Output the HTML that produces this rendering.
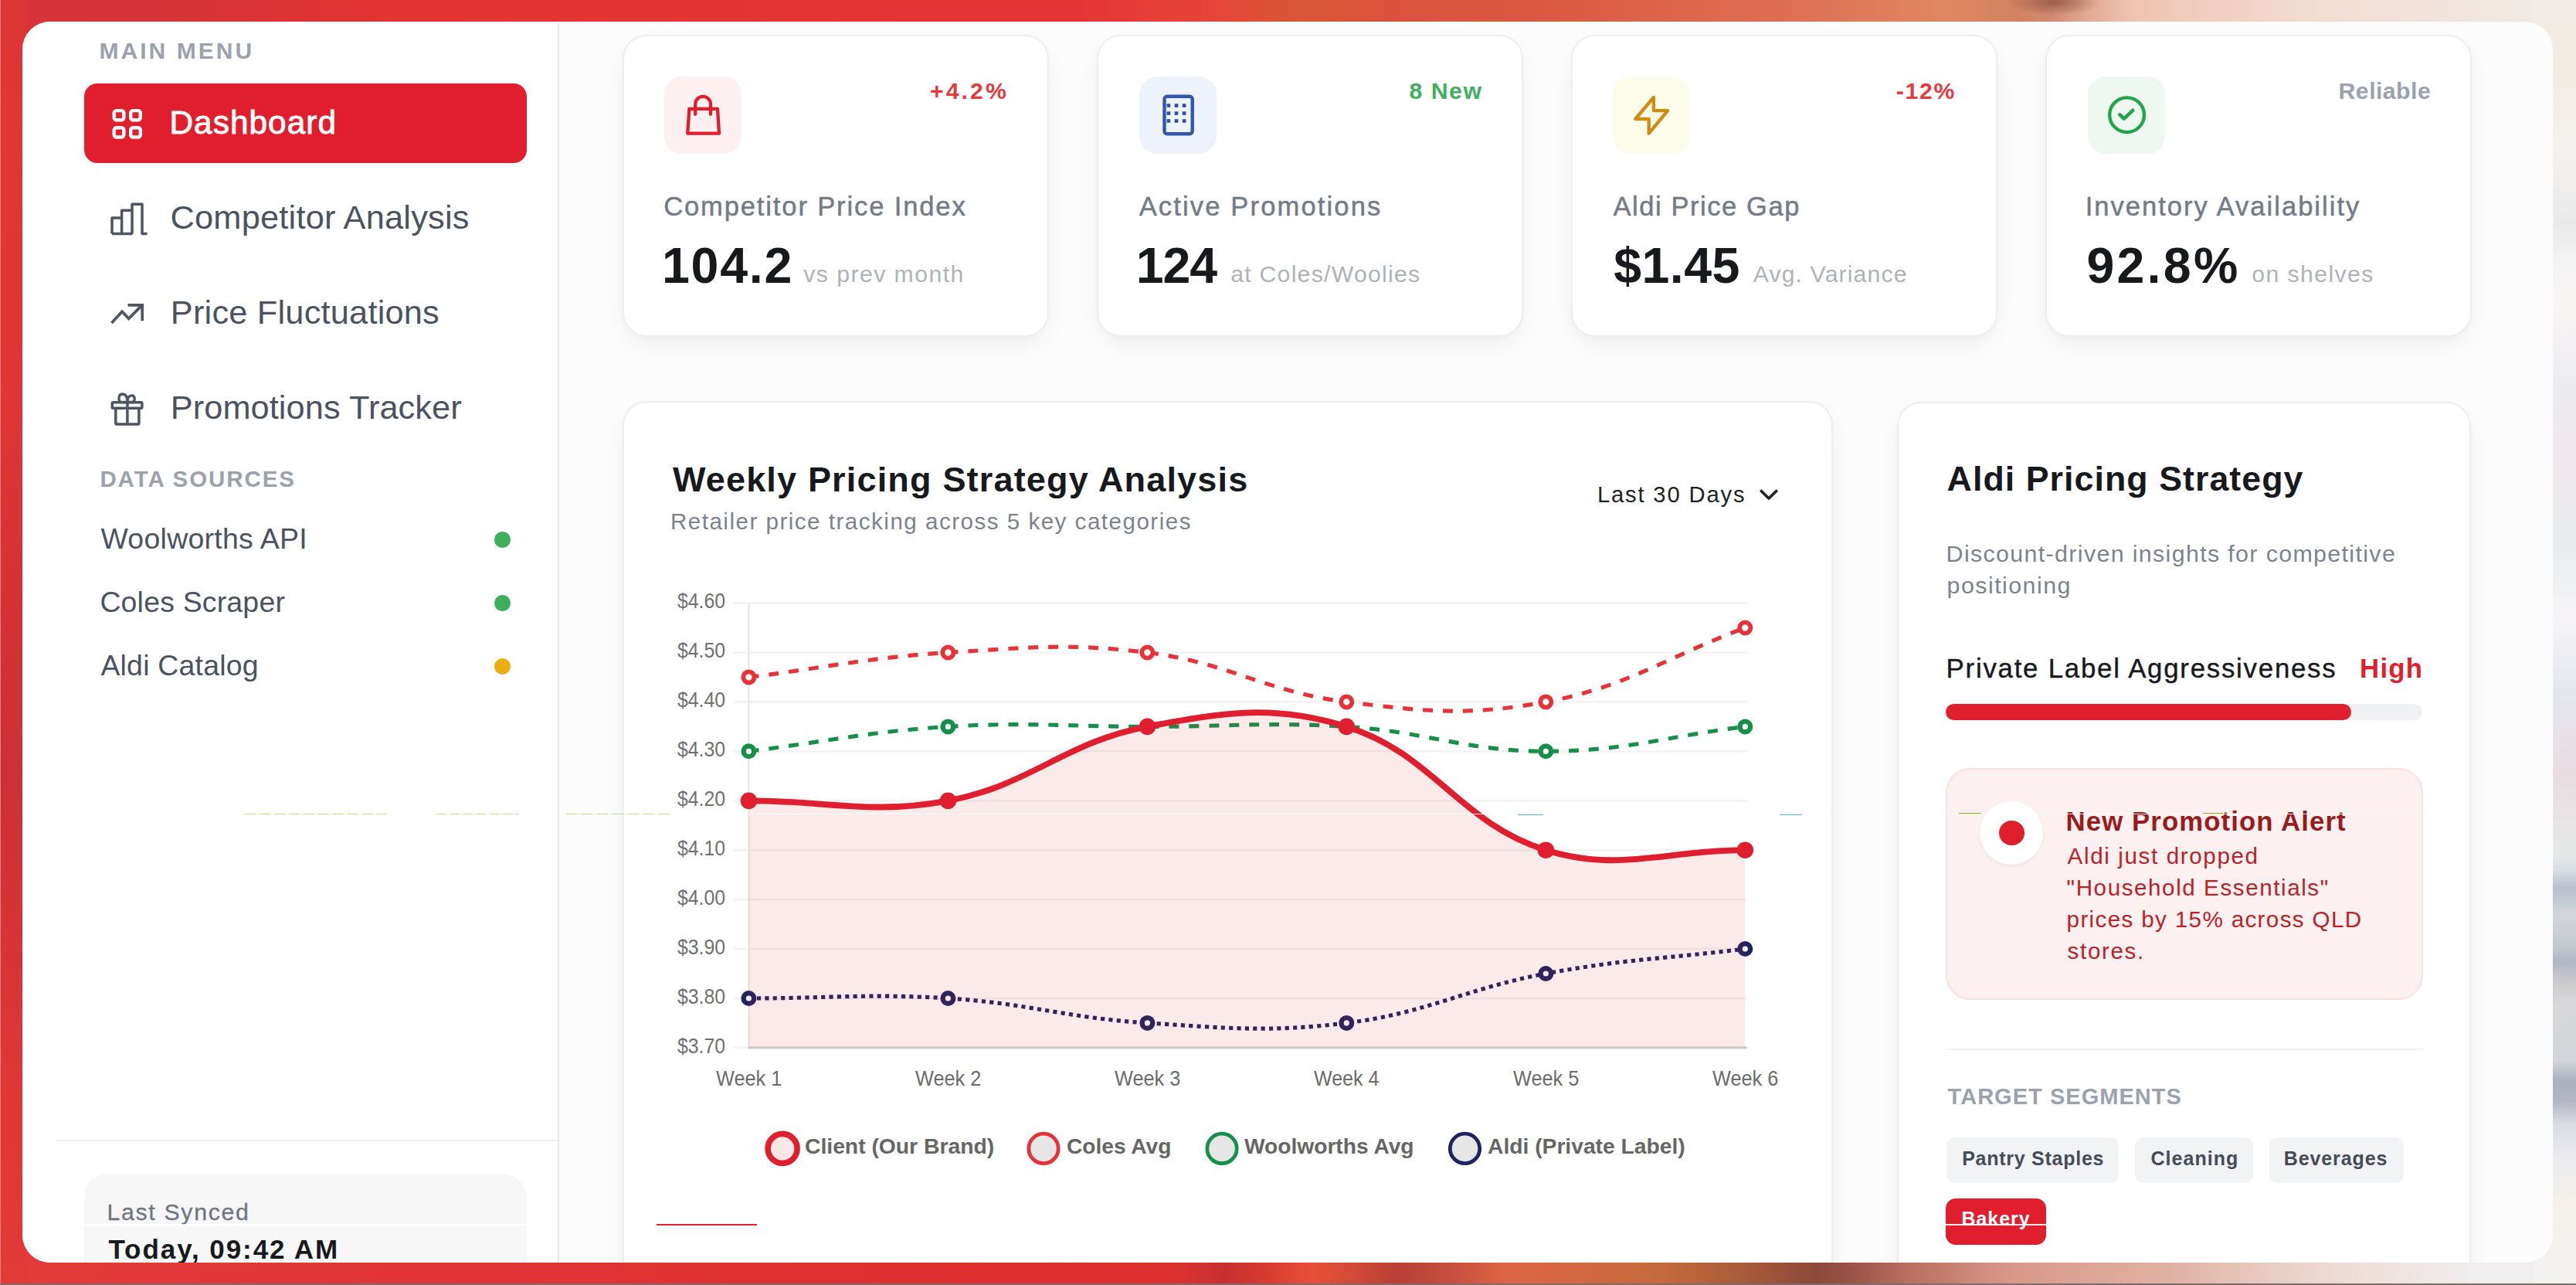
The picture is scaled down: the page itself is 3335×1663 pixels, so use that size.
<!DOCTYPE html>
<html><head><meta charset="utf-8"><title>Dashboard</title>
<style>
html,body{margin:0;padding:0}
html{overflow:hidden;background:#e03434}
body{width:3335px;height:1663px;overflow:hidden;position:relative;background:#e03434;font-family:"Liberation Sans",sans-serif}
.a{position:absolute}
.t{position:absolute;white-space:nowrap;font-family:"Liberation Sans",sans-serif}
.card{position:absolute;background:#fff;border:2.6px solid #eeeeef;border-radius:31px;box-sizing:border-box;box-shadow:0 12px 36px -6px rgba(0,0,0,0.07),0 2px 6px rgba(0,0,0,0.02)}
.ib{position:absolute;width:100px;height:100px;border-radius:23px}
.chip{position:absolute;height:59px;border-radius:11px;background:#f1f3f5}
</style></head>
<body>
<!-- backdrop -->
<div id="bgtop" class="a" style="left: 0px; top: 0px; width: 3335px; height: 840px; background: linear-gradient(to right, rgb(216, 52, 58) 0px, rgb(212, 52, 55) 200px, rgb(227, 51, 51) 500px, rgb(228, 54, 54) 1400px, rgb(230, 67, 59) 1560px, rgb(218, 86, 53) 1680px, rgb(220, 81, 60) 1800px, rgb(217, 90, 64) 2000px, rgb(222, 109, 83) 2300px, rgb(224, 135, 98) 2520px, rgb(211, 130, 98) 2610px, rgb(207, 138, 112) 2655px, rgb(226, 168, 146) 2700px, rgb(240, 195, 178) 2760px, rgb(242, 221, 210) 3000px, rgb(240, 236, 232) 3335px);"></div>
<div id="bgbot" class="a" style="left: 0px; top: 840px; width: 3335px; height: 823px; background: linear-gradient(to right, rgb(227, 58, 58) 0px, rgb(224, 52, 54) 600px, rgb(224, 48, 48) 1400px, rgb(221, 50, 49) 1520px, rgb(200, 48, 48) 1585px, rgb(216, 58, 48) 1640px, rgb(232, 80, 58) 1700px, rgb(208, 72, 56) 1760px, rgb(184, 64, 53) 1810px, rgb(200, 80, 64) 1880px, rgb(221, 101, 69) 1950px, rgb(197, 106, 60) 2150px, rgb(168, 90, 58) 2260px, rgb(140, 74, 58) 2350px, rgb(154, 85, 72) 2400px, rgb(181, 108, 92) 2460px, rgb(216, 152, 136) 2600px, rgb(224, 176, 160) 2800px, rgb(236, 216, 208) 3000px, rgb(240, 238, 238) 3200px, rgb(240, 238, 238) 3335px);"></div>
<div class="a" style="left:2600px;top:-14px;width:120px;height:34px;border-radius:50%;background:radial-gradient(closest-side,rgba(140,80,60,0.75),rgba(140,80,60,0))"></div>
<div id="bgleft" class="a" style="left: 0px; top: 0px; width: 34px; height: 1663px; background: linear-gradient(rgb(220, 53, 54) 0px, rgb(226, 54, 50) 150px, rgb(224, 53, 52) 500px, rgb(214, 50, 54) 750px, rgb(204, 48, 54) 1000px, rgb(216, 52, 54) 1250px, rgb(226, 56, 53) 1450px, rgb(226, 58, 56) 1663px);"></div>
<div id="bgright" class="a" style="left: 3280px; top: 0px; width: 55px; height: 1663px; background: linear-gradient(rgb(242, 236, 230) 0px, rgb(243, 236, 228) 100px, rgb(244, 242, 240) 200px, rgb(233, 233, 234) 290px, rgb(244, 244, 244) 340px, rgb(248, 244, 244) 400px, rgb(236, 236, 240) 500px, rgb(240, 232, 236) 600px, rgb(232, 236, 236) 700px, rgb(246, 244, 246) 800px, rgb(228, 230, 238) 900px, rgb(232, 220, 224) 1000px, rgb(230, 232, 232) 1100px, rgb(220, 223, 226) 1125px, rgb(184, 192, 204) 1150px, rgb(210, 214, 218) 1185px, rgb(196, 200, 208) 1225px, rgb(176, 184, 196) 1245px, rgb(200, 200, 204) 1268px, rgb(216, 216, 218) 1300px, rgb(210, 212, 216) 1372px, rgb(170, 176, 188) 1400px, rgb(178, 182, 194) 1425px, rgb(218, 220, 226) 1455px, rgb(236, 236, 240) 1500px, rgb(245, 241, 234) 1560px, rgb(243, 242, 241) 1640px);"></div>
<div class="a" style="left:0;top:1661px;width:3335px;height:2px;background:#7e6c6a"></div>
<div class="a" style="left:0;top:0;width:1px;height:1661px;background:#ee7f7f"></div>
<!-- frame -->
<div id="frame" class="a" style="left:28.5px;top:28px;width:3276.5px;height:1606px;border-radius:36px;background:#fcfcfd;overflow:hidden">
 <div id="inner" class="a" style="left:-28.5px;top:-28px;width:3335px;height:1663px">
  <!-- sidebar -->
  <div class="a" style="left:0;top:0;width:721.5px;height:1663px;background:#fff"></div>
  <div class="a" style="left:721.5px;top:0;width:2.6px;height:1663px;background:#e8e9ec"></div>
  <div class="a" style="left:109px;top:108px;width:572.5px;height:103px;border-radius:17px;background:#e01e2e"></div>
  <div class="a" style="left:72px;top:1474.7px;width:649px;height:2.6px;background:#eeeff1"></div>
  <div class="a" style="left:109px;top:1519px;width:572.5px;height:200px;border-radius:31px;background:#f7f7f8"></div>
  <div class="a" style="left:640px;top:688.3px;width:20.6px;height:20.6px;border-radius:50%;background:#3fae5d"></div>
  <div class="a" style="left:640px;top:770px;width:20.6px;height:20.6px;border-radius:50%;background:#3fae5d"></div>
  <div class="a" style="left:640px;top:852.2px;width:20.6px;height:20.6px;border-radius:50%;background:#eaae12"></div>
  <!-- stat cards -->
  <div class="card" style="left:806px;top:44.6px;width:551.6px;height:391px"></div>
  <div class="card" style="left:1420.4px;top:44.6px;width:551.6px;height:391px"></div>
  <div class="card" style="left:2034.4px;top:44.6px;width:551.6px;height:391px"></div>
  <div class="card" style="left:2648.4px;top:44.6px;width:551.6px;height:391px"></div>
  <div class="ib" style="left:860.3px;top:98.5px;background:#fdf0f0"></div>
  <div class="ib" style="left:1475px;top:98.5px;background:#eef3fb"></div>
  <div class="ib" style="left:2088.3px;top:99px;background:#fdfbe9"></div>
  <div class="ib" style="left:2702.8px;top:98.5px;background:#eff7f1"></div>
  <!-- chart card / right card -->
  <div class="card" style="left:806px;top:519.2px;width:1567.3px;height:1300px"></div>
  <div class="card" style="left:2455.7px;top:519.6px;width:743.8px;height:1300px"></div>
  <!-- right card parts -->
  <div class="a" style="left:2519.4px;top:911.2px;width:616.4px;height:20.8px;border-radius:11px;background:#eff1f3"></div>
  <div class="a" style="left:2519.4px;top:911.2px;width:524.5px;height:20.8px;border-radius:11px;background:#df1f2d"></div>
  <div class="a" style="left:2519.4px;top:994.2px;width:617.4px;height:299.5px;border-radius:32px;background:#fdf0f0;border:2.6px solid #fbe0e0;box-sizing:border-box"></div>
  <div class="a" style="left:2563.4px;top:1036.7px;width:82px;height:82px;border-radius:50%;background:#fff;box-shadow:0 2px 5px rgba(0,0,0,0.06)"></div>
  <div class="a" style="left:2588.2px;top:1061.5px;width:32.4px;height:32.4px;border-radius:50%;background:#df1f2d"></div>
  <div class="a" style="left:2519.4px;top:1356.8px;width:617.4px;height:2.6px;background:#f0f1f3"></div>
  <div class="chip" style="left:2520px;top:1471.7px;width:223px"></div>
  <div class="chip" style="left:2763.7px;top:1471.7px;width:153.5px"></div>
  <div class="chip" style="left:2938px;top:1471.7px;width:174.4px"></div>
  <div class="chip" style="left:2519.4px;top:1551.2px;width:129.8px;height:59.6px;border-radius:13px;background:#e01e2e"></div>
  <svg id="svg" class="a" style="left:0;top:0" width="3335" height="1663" viewBox="0 0 3335 1663" fill="none"><path d="M949.5 1355.9H2262" stroke="#f3f3f4" stroke-width="2.6"></path><path d="M949.5 1292.0H2262" stroke="#f3f3f4" stroke-width="2.6"></path><path d="M949.5 1228.0H2262" stroke="#f3f3f4" stroke-width="2.6"></path><path d="M949.5 1164.1H2262" stroke="#f3f3f4" stroke-width="2.6"></path><path d="M949.5 1100.2H2262" stroke="#f3f3f4" stroke-width="2.6"></path><path d="M949.5 1036.3H2262" stroke="#f3f3f4" stroke-width="2.6"></path><path d="M949.5 972.3H2262" stroke="#f3f3f4" stroke-width="2.6"></path><path d="M949.5 908.4H2262" stroke="#f3f3f4" stroke-width="2.6"></path><path d="M949.5 844.5H2262" stroke="#f3f3f4" stroke-width="2.6"></path><path d="M949.5 780.5H2262" stroke="#f3f3f4" stroke-width="2.6"></path><path d="M969.3 779.3V1357.2" stroke="#eaeaeb" stroke-width="2.6"></path><path d="M968 1355.9H2262" stroke="#cfcfcf" stroke-width="3"></path><path d="M969.4 1292.0C1072.6 1292.0 1124.6 1285.6 1227.4 1292.0C1331.0 1298.4 1381.8 1317.5 1485.4 1323.9C1588.2 1330.3 1641.7 1336.5 1743.3 1323.9C1848.1 1311.0 1897.0 1279.4 2001.3 1260.0C2103.4 1241.0 2156.1 1240.8 2259.3 1228.0" stroke="#1f2361" stroke-width="5.2" stroke-dasharray="5.2 5.2"></path><circle cx="969.4" cy="1292.0" r="6.8" fill="#fff" stroke="#1f2361" stroke-width="6.4"></circle><circle cx="1227.4" cy="1292.0" r="6.8" fill="#fff" stroke="#1f2361" stroke-width="6.4"></circle><circle cx="1485.4" cy="1323.9" r="6.8" fill="#fff" stroke="#1f2361" stroke-width="6.4"></circle><circle cx="1743.3" cy="1323.9" r="6.8" fill="#fff" stroke="#1f2361" stroke-width="6.4"></circle><circle cx="2001.3" cy="1260.0" r="6.8" fill="#fff" stroke="#1f2361" stroke-width="6.4"></circle><circle cx="2259.3" cy="1228.0" r="6.8" fill="#fff" stroke="#1f2361" stroke-width="6.4"></circle><path d="M969.4 972.3C1072.6 959.5 1123.8 946.8 1227.4 940.4C1330.2 934.0 1382.2 940.4 1485.4 940.4C1588.6 940.4 1640.5 934.0 1743.3 940.4C1846.9 946.8 1898.1 972.3 2001.3 972.3C2104.5 972.3 2156.1 953.1 2259.3 940.4" stroke="#178f4b" stroke-width="5.2" stroke-dasharray="13 13"></path><circle cx="969.4" cy="972.3" r="6.8" fill="#fff" stroke="#178f4b" stroke-width="6.4"></circle><circle cx="1227.4" cy="940.4" r="6.8" fill="#fff" stroke="#178f4b" stroke-width="6.4"></circle><circle cx="1485.4" cy="940.4" r="6.8" fill="#fff" stroke="#178f4b" stroke-width="6.4"></circle><circle cx="1743.3" cy="940.4" r="6.8" fill="#fff" stroke="#178f4b" stroke-width="6.4"></circle><circle cx="2001.3" cy="972.3" r="6.8" fill="#fff" stroke="#178f4b" stroke-width="6.4"></circle><circle cx="2259.3" cy="940.4" r="6.8" fill="#fff" stroke="#178f4b" stroke-width="6.4"></circle><path d="M969.4 876.4C1072.6 863.6 1123.8 850.9 1227.4 844.5C1330.2 838.1 1383.7 831.9 1485.4 844.5C1590.1 857.4 1638.6 895.4 1743.3 908.4C1845.0 921.0 1901.5 926.9 2001.3 908.4C2107.8 888.6 2156.1 850.9 2259.3 812.5" stroke="#e8323a" stroke-width="5.2" stroke-dasharray="13 13"></path><circle cx="969.4" cy="876.4" r="7.1" fill="#fff" stroke="#e8323a" stroke-width="5.8"></circle><circle cx="1227.4" cy="844.5" r="7.1" fill="#fff" stroke="#e8323a" stroke-width="5.8"></circle><circle cx="1485.4" cy="844.5" r="7.1" fill="#fff" stroke="#e8323a" stroke-width="5.8"></circle><circle cx="1743.3" cy="908.4" r="7.1" fill="#fff" stroke="#e8323a" stroke-width="5.8"></circle><circle cx="2001.3" cy="908.4" r="7.1" fill="#fff" stroke="#e8323a" stroke-width="5.8"></circle><circle cx="2259.3" cy="812.5" r="7.1" fill="#fff" stroke="#e8323a" stroke-width="5.8"></circle><path d="M969.4 1036.3C1072.6 1036.3 1127.5 1054.8 1227.4 1036.3C1333.9 1016.5 1378.8 960.2 1485.4 940.4C1585.2 921.8 1648.5 911.0 1743.3 940.4C1854.9 974.9 1889.8 1065.6 2001.3 1100.2C2096.2 1129.6 2156.1 1100.2 2259.3 1100.2L2259.3 1355.9L969.4 1355.9Z" fill="rgba(205,52,45,0.1)"></path><path d="M969.4 1036.3C1072.6 1036.3 1127.5 1054.8 1227.4 1036.3C1333.9 1016.5 1378.8 960.2 1485.4 940.4C1585.2 921.8 1648.5 911.0 1743.3 940.4C1854.9 974.9 1889.8 1065.6 2001.3 1100.2C2096.2 1129.6 2156.1 1100.2 2259.3 1100.2" stroke="#df1f2f" stroke-width="7.8" stroke-linecap="butt"></path><circle cx="969.4" cy="1036.3" r="10.8" fill="#df1f2f"></circle><circle cx="1227.4" cy="1036.3" r="10.8" fill="#df1f2f"></circle><circle cx="1485.4" cy="940.4" r="10.8" fill="#df1f2f"></circle><circle cx="1743.3" cy="940.4" r="10.8" fill="#df1f2f"></circle><circle cx="2001.3" cy="1100.2" r="10.8" fill="#df1f2f"></circle><circle cx="2259.3" cy="1100.2" r="10.8" fill="#df1f2f"></circle><circle cx="1013.1" cy="1486.4" r="19" fill="#f9e7e8" stroke="#df1f2f" stroke-width="7.6"></circle><circle cx="1351" cy="1486.4" r="19.2" fill="#e6e6e6" stroke="#e8323a" stroke-width="4.8"></circle><circle cx="1582" cy="1486.4" r="19.2" fill="#e6e6e6" stroke="#178f4b" stroke-width="4.8"></circle><circle cx="1896.5" cy="1486.4" r="19.2" fill="#e6e6e6" stroke="#1f2361" stroke-width="4.8"></circle><path d="M2280.3 635.5L2290 645L2299.7 635.5" stroke="#222" stroke-width="3.8" stroke-linecap="round" stroke-linejoin="round"></path><rect x="147.7" y="143.1" width="12.6" height="12.2" rx="3" stroke="#fff" stroke-width="4.4"></rect><rect x="169.2" y="143.1" width="12.6" height="12.2" rx="3" stroke="#fff" stroke-width="4.4"></rect><rect x="147.7" y="165.3" width="12.6" height="12.2" rx="3" stroke="#fff" stroke-width="4.4"></rect><rect x="169.2" y="165.3" width="12.6" height="12.2" rx="3" stroke="#fff" stroke-width="4.4"></rect><path d="M145 302.6V282H157.6M157.6 302.6V272.3H171M171 302.6V264.2H184V302.6H190.5M145 302.6H171.5" stroke="#4e5563" stroke-width="3.5" stroke-linejoin="round" stroke-linecap="butt"></path><path d="M144.5 418L158 403.2L166.7 412.3L183.5 395.4M165.5 394.9H184.2V415.3" stroke="#4e5563" stroke-width="3.7" stroke-linejoin="miter" stroke-linecap="butt"></path><rect x="145.2" y="520.7" width="38.7" height="7.6" rx="1.5" stroke="#4e5563" stroke-width="3.5"></rect><path d="M149.8 528.3V547.5Q149.8 549 151.3 549H178.4Q179.9 549 179.9 547.5V528.3M164.9 520.7V549" stroke="#4e5563" stroke-width="3.5"></path><path d="M164.9 520.5H157.5Q154 520.5 154 515.5Q154 510 158.5 510Q164.9 510 164.9 520.5H171Q174.2 520.5 174.2 516Q174.2 511.8 170.5 511.8Q164.9 511.8 164.9 520.5" stroke="#4e5563" stroke-width="3.3"></path><path d="M892.4 140.8H929L931 172.6H890.2Z" stroke="#e01e2e" stroke-width="4.3" stroke-linejoin="round"></path><path d="M900.2 147.8V134.8A9.9 9.9 0 0 1 920 134.8V147.8" stroke="#e01e2e" stroke-width="4.3" stroke-linecap="round"></path><rect x="1507.5" y="124.7" width="36.2" height="48.6" rx="3.5" stroke="#3256ad" stroke-width="4.4"></rect><rect x="1510.6000000000001" y="134.29999999999998" width="4.6" height="4.6" fill="#2f4ca3"></rect><rect x="1510.6000000000001" y="144.29999999999998" width="4.6" height="4.6" fill="#2f4ca3"></rect><rect x="1510.6000000000001" y="154.2" width="4.6" height="4.6" fill="#2f4ca3"></rect><rect x="1520.7" y="134.29999999999998" width="4.6" height="4.6" fill="#2f4ca3"></rect><rect x="1520.7" y="144.29999999999998" width="4.6" height="4.6" fill="#2f4ca3"></rect><rect x="1520.7" y="154.2" width="4.6" height="4.6" fill="#2f4ca3"></rect><rect x="1530.8" y="134.29999999999998" width="4.6" height="4.6" fill="#2f4ca3"></rect><rect x="1530.8" y="144.29999999999998" width="4.6" height="4.6" fill="#2f4ca3"></rect><rect x="1530.8" y="154.2" width="4.6" height="4.6" fill="#2f4ca3"></rect><path d="M2140.9 126V143.1H2159.2L2134.7 172.7V154H2117.2Z" stroke="#cf8b12" stroke-width="4.3" stroke-linejoin="round"></path><circle cx="2753.6" cy="148.7" r="22.4" stroke="#1ea548" stroke-width="4.3"></circle><path d="M2744.4 148.4L2749.8 153.6L2761.2 142.8" stroke="#1ea548" stroke-width="4.6" stroke-linecap="round" stroke-linejoin="round"></path></svg>
  <div id="texts"><span class="t" style="left:128.40px;top:51.20px;font-size:30px;line-height:30px;color:#9ba1ad;font-weight:bold;letter-spacing:3.056px;">MAIN MENU</span><span class="t" style="left:219.50px;top:137.85px;font-size:42.3px;line-height:42.3px;color:#fff;letter-spacing:1.063px;-webkit-text-stroke:0.9px #fff;">Dashboard</span><span class="t" style="left:220.50px;top:260.05px;font-size:43.3px;line-height:43.3px;color:#4b5260;letter-spacing:0.242px;">Competitor Analysis</span><span class="t" style="left:220.80px;top:383.05px;font-size:43.3px;line-height:43.3px;color:#4b5260;letter-spacing:0.226px;">Price Fluctuations</span><span class="t" style="left:220.80px;top:506.35px;font-size:43.3px;line-height:43.3px;color:#4b5260;letter-spacing:0.087px;">Promotions Tracker</span><span class="t" style="left:129.40px;top:604.85px;font-size:29.5px;line-height:29.5px;color:#9ba1ad;font-weight:bold;letter-spacing:1.913px;">DATA SOURCES</span><span class="t" style="left:130.40px;top:679.30px;font-size:37.4px;line-height:37.4px;color:#4b5260;letter-spacing:0.307px;">Woolworths API</span><span class="t" style="left:129.40px;top:760.70px;font-size:37.4px;line-height:37.4px;color:#4b5260;letter-spacing:0.212px;">Coles Scraper</span><span class="t" style="left:130.40px;top:842.90px;font-size:37.4px;line-height:37.4px;color:#4b5260;letter-spacing:0.235px;">Aldi Catalog</span><span class="t" style="left:138.40px;top:1553.65px;font-size:30.3px;line-height:30.3px;color:#6f7682;letter-spacing:1.671px;-webkit-text-stroke:0.3px #6f7682;">Last Synced</span><span class="t" style="left:140.40px;top:1599.00px;font-size:35px;line-height:35px;color:#17191d;font-weight:bold;letter-spacing:1.933px;">Today, 09:42 AM</span><span class="t" style="left:1204.00px;top:103.20px;font-size:30.2px;line-height:30.2px;color:#e5393f;font-weight:bold;letter-spacing:3.102px;">+4.2%</span><span class="t" style="left:859.20px;top:250.45px;font-size:34.5px;line-height:34.5px;color:#747b87;letter-spacing:1.884px;-webkit-text-stroke:0.5px #747b87;">Competitor Price Index</span><span class="t" style="left:856.90px;top:311.55px;font-size:64.5px;line-height:64.5px;color:#17191d;font-weight:bold;letter-spacing:1.766px;">104.2</span><span class="t" style="left:1040.20px;top:340.20px;font-size:30.2px;line-height:30.2px;color:#aeb2b9;letter-spacing:1.467px;">vs prev month</span><span class="t" style="left:1824.60px;top:103.20px;font-size:30.2px;line-height:30.2px;color:#3fae60;font-weight:bold;letter-spacing:1.509px;">8 New</span><span class="t" style="left:1474.70px;top:250.45px;font-size:34.5px;line-height:34.5px;color:#747b87;letter-spacing:2.158px;-webkit-text-stroke:0.5px #747b87;">Active Promotions</span><span class="t" style="left:1470.70px;top:311.55px;font-size:64.5px;line-height:64.5px;color:#17191d;font-weight:bold;letter-spacing:-1.072px;">124</span><span class="t" style="left:1593.20px;top:340.20px;font-size:30.2px;line-height:30.2px;color:#aeb2b9;letter-spacing:1.263px;">at Coles/Woolies</span><span class="t" style="left:2454.70px;top:103.20px;font-size:30.2px;line-height:30.2px;color:#e5393f;font-weight:bold;letter-spacing:1.690px;">-12%</span><span class="t" style="left:2088.40px;top:250.45px;font-size:34.5px;line-height:34.5px;color:#747b87;letter-spacing:1.575px;-webkit-text-stroke:0.5px #747b87;">Aldi Price Gap</span><span class="t" style="left:2089.20px;top:311.55px;font-size:64.5px;line-height:64.5px;color:#17191d;font-weight:bold;letter-spacing:0.441px;">$1.45</span><span class="t" style="left:2269.70px;top:340.20px;font-size:30.2px;line-height:30.2px;color:#aeb2b9;letter-spacing:1.137px;">Avg. Variance</span><span class="t" style="left:3027.60px;top:103.20px;font-size:30.2px;line-height:30.2px;color:#9ba1ad;font-weight:bold;letter-spacing:0.474px;">Reliable</span><span class="t" style="left:2699.70px;top:250.45px;font-size:34.5px;line-height:34.5px;color:#747b87;letter-spacing:2.033px;-webkit-text-stroke:0.5px #747b87;">Inventory Availability</span><span class="t" style="left:2701.40px;top:311.55px;font-size:64.5px;line-height:64.5px;color:#17191d;font-weight:bold;letter-spacing:3.241px;">92.8%</span><span class="t" style="left:2915.30px;top:340.20px;font-size:30.2px;line-height:30.2px;color:#aeb2b9;letter-spacing:1.408px;">on shelves</span><span class="t" style="left:870.90px;top:598.10px;font-size:45px;line-height:45px;color:#17191d;font-weight:bold;letter-spacing:1.179px;">Weekly Pricing Strategy Analysis</span><span class="t" style="left:867.90px;top:659.75px;font-size:29.5px;line-height:29.5px;color:#7c838e;letter-spacing:1.526px;">Retailer price tracking across 5 key categories</span><span class="t" style="left:2067.90px;top:625.60px;font-size:29.2px;line-height:29.2px;color:#222;letter-spacing:1.840px;">Last 30 Days</span><span class="t" style="left:2520.60px;top:598.45px;font-size:44.7px;line-height:44.7px;color:#17191d;font-weight:bold;letter-spacing:1.067px;">Aldi Pricing Strategy</span><span class="t" style="left:2519.60px;top:701.00px;font-size:30.4px;line-height:30.4px;color:#7c838e;letter-spacing:1.347px;">Discount-driven insights for competitive</span><span class="t" style="left:2520.60px;top:741.50px;font-size:30.4px;line-height:30.4px;color:#7c838e;letter-spacing:1.450px;">positioning</span><span class="t" style="left:2519.60px;top:848.30px;font-size:34.8px;line-height:34.8px;color:#17191d;letter-spacing:1.763px;-webkit-text-stroke:0.4px #17191d;">Private Label Aggressiveness</span><span class="t" style="left:3055.00px;top:848.30px;font-size:34.8px;line-height:34.8px;color:#df1f2d;font-weight:bold;letter-spacing:1.249px;">High</span><span class="t" style="left:2674.60px;top:1045.60px;font-size:34.8px;line-height:34.8px;color:#991b1b;font-weight:bold;letter-spacing:1.064px;">New Promotion Alert</span><span class="t" style="left:2676.60px;top:1092.80px;font-size:29.6px;line-height:29.6px;color:#bb2226;letter-spacing:1.626px;">Aldi just dropped</span><span class="t" style="left:2675.60px;top:1133.90px;font-size:29.6px;line-height:29.6px;color:#bb2226;letter-spacing:1.571px;">"Household Essentials"</span><span class="t" style="left:2675.60px;top:1175.30px;font-size:29.6px;line-height:29.6px;color:#bb2226;letter-spacing:1.354px;">prices by 15% across QLD</span><span class="t" style="left:2676.60px;top:1215.80px;font-size:29.6px;line-height:29.6px;color:#bb2226;letter-spacing:1.635px;">stores.</span><span class="t" style="left:2521.60px;top:1405.10px;font-size:29px;line-height:29px;color:#9ba1ad;font-weight:bold;letter-spacing:1.027px;">TARGET SEGMENTS</span><span class="t" style="left:2540.20px;top:1486.60px;font-size:25px;line-height:25px;color:#454c58;font-weight:bold;letter-spacing:0.740px;">Pantry Staples</span><span class="t" style="left:2784.50px;top:1486.60px;font-size:25px;line-height:25px;color:#454c58;font-weight:bold;letter-spacing:1.029px;">Cleaning</span><span class="t" style="left:2956.70px;top:1486.60px;font-size:25px;line-height:25px;color:#454c58;font-weight:bold;letter-spacing:0.916px;">Beverages</span><span class="t" style="left:2539.50px;top:1565.30px;font-size:25px;line-height:25px;color:#fff;font-weight:bold;letter-spacing:0.941px;">Bakery</span><span class="t" style="left:877.40px;top:1339.80px;font-size:27.6px;line-height:27.6px;color:#707070;transform:scaleX(0.8980);transform-origin:0 0;">$3.70</span><span class="t" style="left:877.40px;top:1275.87px;font-size:27.6px;line-height:27.6px;color:#707070;transform:scaleX(0.8980);transform-origin:0 0;">$3.80</span><span class="t" style="left:877.40px;top:1211.94px;font-size:27.6px;line-height:27.6px;color:#707070;transform:scaleX(0.8980);transform-origin:0 0;">$3.90</span><span class="t" style="left:877.40px;top:1148.01px;font-size:27.6px;line-height:27.6px;color:#707070;transform:scaleX(0.8980);transform-origin:0 0;">$4.00</span><span class="t" style="left:877.40px;top:1084.08px;font-size:27.6px;line-height:27.6px;color:#707070;transform:scaleX(0.8980);transform-origin:0 0;">$4.10</span><span class="t" style="left:877.40px;top:1020.15px;font-size:27.6px;line-height:27.6px;color:#707070;transform:scaleX(0.8980);transform-origin:0 0;">$4.20</span><span class="t" style="left:877.40px;top:956.22px;font-size:27.6px;line-height:27.6px;color:#707070;transform:scaleX(0.8980);transform-origin:0 0;">$4.30</span><span class="t" style="left:877.40px;top:892.29px;font-size:27.6px;line-height:27.6px;color:#707070;transform:scaleX(0.8980);transform-origin:0 0;">$4.40</span><span class="t" style="left:877.40px;top:828.36px;font-size:27.6px;line-height:27.6px;color:#707070;transform:scaleX(0.8980);transform-origin:0 0;">$4.50</span><span class="t" style="left:877.40px;top:764.43px;font-size:27.6px;line-height:27.6px;color:#707070;transform:scaleX(0.8980);transform-origin:0 0;">$4.60</span><span class="t" style="left:927.30px;top:1382.30px;font-size:27.2px;line-height:27.2px;color:#6b6b6b;transform:scaleX(0.9298);transform-origin:0 0;">Week 1</span><span class="t" style="left:1185.28px;top:1382.30px;font-size:27.2px;line-height:27.2px;color:#6b6b6b;transform:scaleX(0.9298);transform-origin:0 0;">Week 2</span><span class="t" style="left:1443.26px;top:1382.30px;font-size:27.2px;line-height:27.2px;color:#6b6b6b;transform:scaleX(0.9298);transform-origin:0 0;">Week 3</span><span class="t" style="left:1701.24px;top:1382.30px;font-size:27.2px;line-height:27.2px;color:#6b6b6b;transform:scaleX(0.9196);transform-origin:0 0;">Week 4</span><span class="t" style="left:1959.22px;top:1382.30px;font-size:27.2px;line-height:27.2px;color:#6b6b6b;transform:scaleX(0.9298);transform-origin:0 0;">Week 5</span><span class="t" style="left:2217.20px;top:1382.30px;font-size:27.2px;line-height:27.2px;color:#6b6b6b;transform:scaleX(0.9298);transform-origin:0 0;">Week 6</span><span class="t" style="left:1041.98px;top:1469.70px;font-size:27.8px;line-height:27.8px;color:#666;font-weight:bold;transform:scaleX(1.0174);transform-origin:0 0;">Client (Our Brand)</span><span class="t" style="left:1380.59px;top:1469.70px;font-size:27.8px;line-height:27.8px;color:#666;font-weight:bold;transform:scaleX(1.0111);transform-origin:0 0;">Coles Avg</span><span class="t" style="left:1611.40px;top:1469.70px;font-size:27.8px;line-height:27.8px;color:#666;font-weight:bold;transform:scaleX(1.0131);transform-origin:0 0;">Woolworths Avg</span><span class="t" style="left:1925.60px;top:1469.70px;font-size:27.8px;line-height:27.8px;color:#666;font-weight:bold;transform:scaleX(1.0155);transform-origin:0 0;">Aldi (Private Label)</span></div>
  <!-- stitching artefacts -->
  <div class="a" style="left:317px;top:1052.8px;width:183px;height:1.3px;background:repeating-linear-gradient(to right,rgba(160,200,40,0.6) 0 14px,rgba(160,200,40,0.15) 14px 19px)"></div>
  <div class="a" style="left:566px;top:1052.8px;width:105px;height:1.3px;background:repeating-linear-gradient(to right,rgba(160,200,40,0.6) 0 12px,rgba(160,200,40,0.15) 12px 17px)"></div>
  <div class="a" style="left:733px;top:1052.8px;width:134px;height:1.3px;background:repeating-linear-gradient(to right,rgba(160,200,40,0.6) 0 14px,rgba(160,200,40,0.15) 14px 20px)"></div>
  <div class="a" style="left:1965px;top:1052.6px;width:33px;height:2px;background:#6ab6bd"></div>
  <div class="a" style="left:2303.6px;top:1052.6px;width:29.5px;height:2px;background:#6ab6bd"></div>
  <div class="a" style="left:2536px;top:1052.4px;width:28.5px;height:2px;background:#86ae2a"></div>
  <div class="a" style="left:2852px;top:1052.4px;width:26px;height:2px;background:#86ae2a"></div>
  <div class="a" style="left:969px;top:1052.8px;width:1403px;height:1.6px;background:rgba(255,255,255,0.85)"></div>
  <div class="a" style="left:2519px;top:1052.8px;width:618px;height:1.6px;background:rgba(255,255,255,0.85)"></div>
  <div class="a" style="left:850px;top:1583.8px;width:130px;height:2px;background:#df2030"></div>
  <div class="a" style="left:2519.4px;top:1584px;width:129.8px;height:1.6px;background:rgba(255,255,255,0.9)"></div>
  <div class="a" style="left:109px;top:1584px;width:572.5px;height:2px;background:rgba(255,255,255,0.8)"></div>
 </div>
</div>


</body></html>
